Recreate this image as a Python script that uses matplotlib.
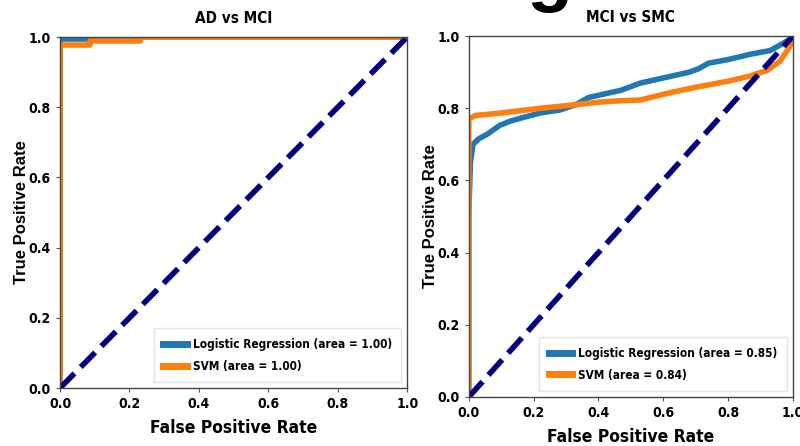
#########################
# ROC curves: AD/MCI/SMC #
#########################
import numpy as np
import matplotlib.pyplot as plt

# condensed bold look like the original slide
plt.rcParams['font.family'] = ['DejaVu Sans']
plt.rcParams['font.stretch'] = 'condensed'
plt.rcParams['font.weight'] = 'bold'
plt.rcParams['axes.labelweight'] = 'bold'
plt.rcParams['axes.titleweight'] = 'bold'
WIDE = ['Liberation Sans', 'DejaVu Sans']

##############
# curve data #
##############
# AD vs MCI
ad_lr_fpr = [0.0, 0.0, 0.08, 0.08, 1.0]
ad_lr_tpr = [0.0, 0.995, 0.995, 1.0, 1.0]
ad_svm_fpr = [0.0, 0.0, 0.086, 0.086, 0.23, 0.23, 1.0]
ad_svm_tpr = [0.0, 0.977, 0.977, 0.99, 0.99, 1.0, 1.0]
ad_auc = [1.00, 1.00]

# MCI vs SMC
mci_lr_fpr = [0.0, 0.0, 0.005, 0.013, 0.03, 0.06, 0.096, 0.13, 0.17, 0.22,
              0.28, 0.33, 0.37, 0.42, 0.47, 0.53, 0.58, 0.63, 0.68, 0.71,
              0.74, 0.80, 0.87, 0.93, 0.96, 0.99, 1.0]
mci_lr_tpr = [0.0, 0.51, 0.65, 0.70, 0.715, 0.73, 0.753, 0.765, 0.775, 0.787,
              0.795, 0.81, 0.83, 0.84, 0.85, 0.87, 0.88, 0.89, 0.90, 0.91,
              0.925, 0.935, 0.95, 0.96, 0.975, 0.99, 1.0]
mci_svm_fpr = [0.0, 0.0, 0.02, 0.10, 0.22, 0.33, 0.40, 0.45, 0.53, 0.56,
               0.63, 0.71, 0.80, 0.87, 0.92, 0.96, 0.99, 1.0]
mci_svm_tpr = [0.0, 0.77, 0.78, 0.787, 0.80, 0.81, 0.817, 0.82, 0.823, 0.83,
               0.845, 0.86, 0.875, 0.89, 0.905, 0.93, 0.97, 1.0]
mci_auc = [0.85, 0.84]

chance = [0.0, 1.0]
ticks = [0.0, 0.2, 0.4, 0.6, 0.8, 1.0]

fig = plt.figure(figsize=(8, 4.46), dpi=100)
ax1 = fig.add_axes([0.075, 0.130, 0.434, 0.787])
ax2 = fig.add_axes([0.586, 0.110, 0.405, 0.809])


def roc_panel(ax, lr_fpr, lr_tpr, svm_fpr, svm_tpr, auc, title):
    ax.plot(lr_fpr, lr_tpr, color='#1f77b4', lw=4,
            label='Logistic Regression (area = %0.2f)' % auc[0])
    ax.plot(svm_fpr, svm_tpr, color='#ff7f0e', lw=4,
            label='SVM (area = %0.2f)' % auc[1])
    ax.plot(chance, chance, color='navy', lw=4, linestyle='--')
    ax.set_xlim(0, 1)
    ax.set_ylim(0, 1)
    ax.set_xticks(ticks)
    ax.set_yticks(ticks)
    ax.tick_params(labelsize=10, length=3, color='#555555')
    for s in ax.spines.values():
        s.set_color('#444444')
        s.set_linewidth(1)
    ax.set_xlabel('False Positive Rate', fontsize=12.5, labelpad=6)
    ax.set_ylabel('True Positive Rate', fontsize=12, family=WIDE,
                  fontstretch='normal', labelpad=0)
    ax.set_title(title, fontsize=11, pad=10)
    leg = ax.legend(loc='lower right',
                    prop={'size': 8.5, 'weight': 'bold', 'stretch': 'condensed'},
                    fancybox=False, handlelength=2.0, handletextpad=0.5,
                    borderpad=0.8, labelspacing=0.75)
    leg.get_frame().set_edgecolor('#dddddd')
    for h in leg.get_lines():
        h.set_linewidth(5)


roc_panel(ax1, ad_lr_fpr, ad_lr_tpr, ad_svm_fpr, ad_svm_tpr, ad_auc, 'AD vs MCI')
roc_panel(ax2, mci_lr_fpr, mci_lr_tpr, mci_svm_fpr, mci_svm_tpr, mci_auc,
          'MCI vs SMC')

# cut-off glyph of the slide heading above
fig.text(0.6875, 1.0 + 2 / 446, 'g', fontsize=54, family=WIDE,
         fontweight='bold', fontstretch='normal', ha='center', va='baseline')

fig.savefig('out.png', dpi=100)
